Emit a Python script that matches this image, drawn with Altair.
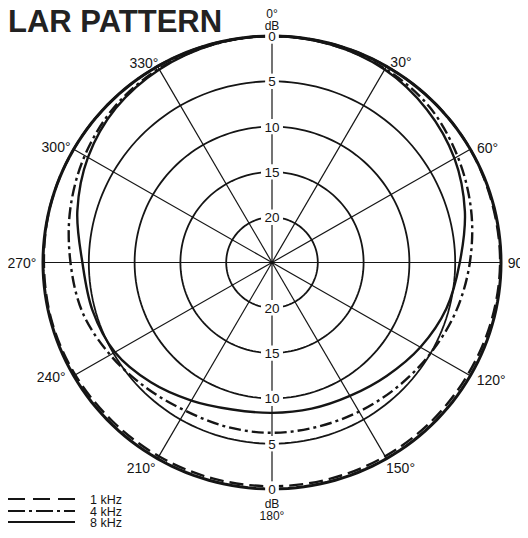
import numpy as np
import pandas as pd
import altair as alt

# ---------------- data ----------------
angles = [0, 15, 30, 45, 60, 75, 90, 105, 120, 135, 150, 165,
          180, 195, 210, 225, 240, 255, 270, 285, 300, 315, 330, 345]
# attenuation (dB below 0 dB) at each angle
att_1khz = [0.0, 0.0, 0.0, 0.0, 0.0, 0.1, 0.1, 0.2, 0.3, 0.3, 0.3, 0.3,
            0.3, 0.3, 0.3, 0.3, 0.2, 0.1, 0.1, 0.0, 0.0, 0.0, 0.0, 0.0]
att_4khz = [0.0, 0.1, 0.3, 0.7, 1.6, 2.5, 3.4, 4.2, 5.0, 5.6, 6.0, 6.2,
            6.2, 6.2, 6.1, 5.5, 4.6, 3.6, 3.0, 2.2, 1.4, 0.7, 0.3, 0.1]
att_8khz = [0.0, 0.1, 0.4, 1.1, 2.0, 3.2, 4.5, 5.3, 6.3, 7.3, 8.0, 8.3,
            8.4, 8.2, 7.4, 6.3, 5.2, 4.7, 4.3, 3.0, 1.8, 0.9, 0.4, 0.1]
series_names = ["1 kHz", "4 kHz", "8 kHz"]
ring_db = [0, 5, 10, 15, 20]
spoke_deg = [0, 30, 60, 90, 120, 150, 180, 210, 240, 270, 300, 330]
angle_labels = ["30°", "60°", "90°", "120°", "150°", "210°", "240°", "270°", "300°", "330°"]
title_text = "LAR PATTERN"

# ---------------- layout ----------------
W, H = 512, 522
KX, KY = 9.16, 9.06          # px per dB-unit
CX, CY = 264.0, 254.5        # center in chart px
RMAX = 25.0                  # 0 dB ring radius (25 dB range)
INK = "#151515"
FONT = "Liberation Sans"

xs = alt.Scale(domain=[-CX / KX, (W - CX) / KX], nice=False, zero=False)
ys = alt.Scale(domain=[-(H - CY) / KY, CY / KY], nice=False, zero=False)
X = alt.X("x:Q", scale=xs, axis=None)
Y = alt.Y("y:Q", scale=ys, axis=None)


def uy(page_y):
    """page pixel row -> data units (layout helper)"""
    return (CY - (page_y - 8)) / KY


def ux(page_x):
    return ((page_x - 8) - CX) / KX


def polar(r, deg):
    t = np.radians(deg)
    return r * np.sin(t), r * np.cos(t)


# rings (grid)
ring_rows = []
t = np.arange(0, 360, 2.0)
for lv in ring_db:
    gx, gy = polar(RMAX - lv, t)
    for i, (a, b) in enumerate(zip(gx, gy)):
        ring_rows.append({"lv": lv, "i": i, "x": a, "y": b})
rings_df = pd.DataFrame(ring_rows)

# spokes
sx, sy = polar(RMAX, np.array(spoke_deg, dtype=float))
spokes_df = pd.DataFrame({"x": 0.0, "y": 0.0, "x2": sx, "y2": sy})


# curves
def curve_df(att):
    r = RMAX - np.array(att)
    cx_, cy_ = polar(r, np.array(angles, dtype=float))
    return pd.DataFrame({"i": range(len(angles)), "x": cx_, "y": cy_})


c1, c4, c8 = curve_df(att_1khz), curve_df(att_4khz), curve_df(att_8khz)

# ring labels on vertical axis
lab_rows = []
for lv in ring_db:
    r = RMAX - lv
    hw = 0.75 if lv < 10 else 1.2
    lab_rows.append({"t": str(lv), "x": 0.0, "y": r, "hw": hw})
    lab_rows.append({"t": str(lv), "x": 0.0, "y": -r, "hw": hw})
lab_df = pd.DataFrame(lab_rows)
lab_df["x1"] = lab_df["x"] - lab_df["hw"]
lab_df["x2"] = lab_df["x"] + lab_df["hw"]
lab_df["y1"] = lab_df["y"] - 0.85
lab_df["y2"] = lab_df["y"] + 0.85

# angle labels (polar placement outside the 0 dB ring)
ang_pos = {"30°": (26.2, 32.5), "60°": (26.7, 61.8), "90°": (26.9, 90.0),
           "120°": (27.2, 118.4), "150°": (26.7, 148.3), "210°": (26.8, 212.2),
           "240°": (27.2, 242.4), "270°": (27.3, 270.0), "300°": (26.8, 298.4),
           "330°": (26.1, 327.6)}
ang_rows = []
for lab in angle_labels:
    r, d = ang_pos[lab]
    a, b = polar(r, d)
    ang_rows.append({"t": lab, "x": a, "y": b})
ang_df = pd.DataFrame(ang_rows)

# top / bottom axis captions (alphabetic baselines)
cap_df = pd.DataFrame({
    "t": ["0°", "dB", "dB", "180°"],
    "x": [0.0, 0.0, 0.0, 0.0],
    "y": [uy(18), uy(29.5), uy(508), uy(520)],
})

# legend
leg_rows_page = [499, 511, 522]
leg_df = pd.DataFrame({
    "t": series_names,
    "x": -CX / KX,
    "x2": ux(75),
    "xt": ux(90),
    "y": [uy(p) for p in leg_rows_page],
    "yt": [uy(p + 4.5) for p in leg_rows_page],
})

title_df = pd.DataFrame({"t": [title_text], "x": [-CX / KX], "y": [uy(32)]})

layers = []
layers.append(alt.Chart(rings_df).mark_line(interpolate="linear-closed", color=INK).encode(
    x=X, y=Y, order="i:Q", detail="lv:N",
    strokeWidth=alt.condition("datum.lv == 0", alt.value(3.0), alt.value(1.8))))
layers.append(alt.Chart(spokes_df).mark_rule(color=INK, strokeWidth=1.2).encode(
    x=X, y=Y, x2="x2:Q", y2="y2:Q"))

dashes = {"1 kHz": [14, 6], "4 kHz": [12, 4, 3, 4]}
for name, df in zip(series_names, [c1, c4, c8]):
    kw = dict(interpolate="cardinal-closed", color=INK, strokeWidth=2.4)
    if name in dashes:
        kw["strokeDash"] = dashes[name]
    layers.append(alt.Chart(df).mark_line(**kw).encode(x=X, y=Y, order="i:Q"))

layers.append(alt.Chart(lab_df).mark_rect(color="white").encode(
    x=alt.X("x1:Q", scale=xs, axis=None), x2="x2:Q",
    y=alt.Y("y1:Q", scale=ys, axis=None), y2="y2:Q"))
layers.append(alt.Chart(lab_df).mark_text(font=FONT, fontSize=13.5, color=INK,
                                          baseline="middle", align="center", dy=1).encode(
    x=X, y=Y, text="t:N"))
layers.append(alt.Chart(ang_df).mark_text(font=FONT, fontSize=14, color=INK,
                                          baseline="middle", align="center", dy=1).encode(
    x=X, y=Y, text="t:N"))
layers.append(alt.Chart(cap_df).mark_text(font=FONT, fontSize=12, color=INK,
                                          baseline="alphabetic", align="center").encode(
    x=X, y=Y, text="t:N"))

# legend lines
leg_dash = {"1 kHz": [17, 8], "4 kHz": [17, 4, 3, 4]}
for name in series_names:
    sub = leg_df[leg_df["t"] == name]
    kw = dict(color=INK, strokeWidth=2.0)
    if name in leg_dash:
        kw["strokeDash"] = leg_dash[name]
    layers.append(alt.Chart(sub).mark_rule(**kw).encode(
        x=alt.X("x:Q", scale=xs, axis=None), x2="x2:Q", y=Y))
layers.append(alt.Chart(leg_df).mark_text(font=FONT, fontSize=12.5, color=INK,
                                          baseline="alphabetic", align="left").encode(
    x=alt.X("xt:Q", scale=xs, axis=None), y=alt.Y("yt:Q", scale=ys, axis=None),
    text="t:N"))

layers.append(alt.Chart(title_df).mark_text(font=FONT, fontSize=31, fontWeight="bold",
                                            color="#222", baseline="alphabetic",
                                            align="left").encode(x=X, y=Y, text="t:N"))

chart = alt.layer(*layers).properties(
    width=W, height=H, padding=0,
    autosize=alt.AutoSizeParams(type="none"),
    background="white",
).configure_view(stroke=None)

chart.save("out.html", embed_options={"renderer": "svg", "actions": False})
